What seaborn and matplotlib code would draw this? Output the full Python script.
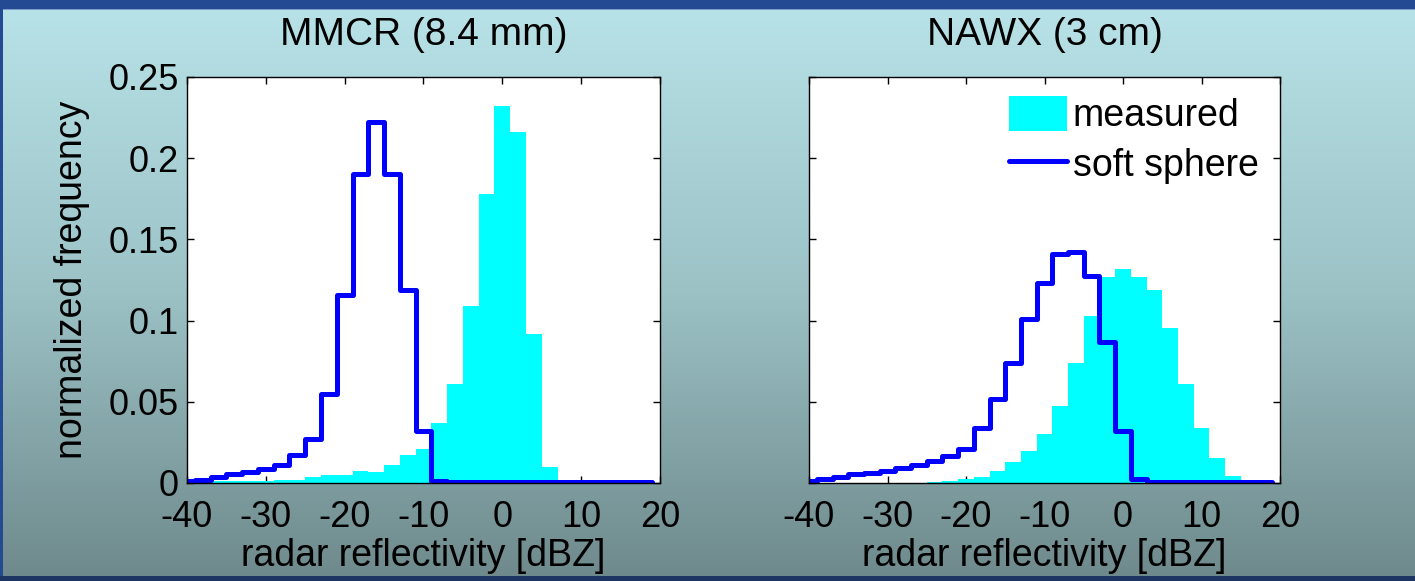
import numpy as np
import matplotlib
matplotlib.use("Agg")
import matplotlib.pyplot as plt
import seaborn as sns
from matplotlib.patches import Rectangle, Patch
from matplotlib.lines import Line2D
from matplotlib.colors import LinearSegmentedColormap

# ---------------- data ----------------
centers = list(range(-40, 20, 2))          # bin centres [dBZ]
bin_edges = list(range(-41, 20, 2))        # bin edges [dBZ]

mmcr_measured = [0.0005, 0.0008, 0.001, 0.001, 0.001, 0.0012, 0.002, 0.002,
                 0.004, 0.0049, 0.005, 0.0075, 0.0066, 0.011, 0.017, 0.021,
                 0.037, 0.061, 0.109, 0.178, 0.232, 0.216, 0.092, 0.010,
                 0.0005, 0.0, 0.0, 0.0, 0.0, 0.0]
mmcr_soft = [0.001, 0.002, 0.004, 0.0055, 0.0068, 0.0088, 0.011, 0.017,
             0.027, 0.055, 0.116, 0.190, 0.222, 0.190, 0.119, 0.032,
             0.0015, 0.0006, 0.0005, 0.0005, 0.0005, 0.0005, 0.0005, 0.0005,
             0.0005, 0.0005, 0.0005, 0.0005, 0.0005, 0.0005]
nawx_measured = [0.0003, 0.0003, 0.0003, 0.0003, 0.0003, 0.0003, 0.0003, 0.0003,
                 0.0006, 0.001, 0.0025, 0.004, 0.0075, 0.013, 0.020, 0.030,
                 0.0476, 0.074, 0.103, 0.127, 0.132, 0.127, 0.1186, 0.0955,
                 0.061, 0.034, 0.0153, 0.0043, 0.001, 0.0]
nawx_soft = [0.001, 0.0025, 0.004, 0.0053, 0.0063, 0.0075, 0.009, 0.011,
             0.0135, 0.0165, 0.021, 0.034, 0.052, 0.074, 0.101, 0.123,
             0.141, 0.1425, 0.1275, 0.087, 0.032, 0.0027, 0.0005, 0.0005,
             0.0005, 0.0005, 0.0005, 0.0005, 0.0005, 0.0005]

titles = ["MMCR (8.4 mm)", "NAWX (3 cm)"]
legend_labels = ["measured", "soft sphere"]
xlabel = "radar reflectivity [dBZ]"
ylabel = "normalized frequency"
xticks = [-40, -30, -20, -10, 0, 10, 20]
xticklabels = ["-40", "-30", "-20", "-10", "0", "10", "20"]
yticks = [0, 0.05, 0.1, 0.15, 0.2, 0.25]
yticklabels = ["0", "0.05", "0.1", "0.15", "0.2", "0.25"]

CYAN = "#00ffff"
BLUE = "#0000ff"

# ---------------- style ----------------
sns.set_theme(style="ticks")
plt.rcParams["font.family"] = ["Liberation Sans", "DejaVu Sans"]
plt.rcParams["axes.unicode_minus"] = False
plt.rcParams["text.color"] = "black"
plt.rcParams["axes.labelcolor"] = "black"
plt.rcParams["xtick.color"] = "black"
plt.rcParams["ytick.color"] = "black"

W, H = 1415, 581
fig = plt.figure(figsize=(W / 100, H / 100), dpi=100)

# gradient background
bg = fig.add_axes([0, 0, 1, 1], zorder=-10)
cmap = LinearSegmentedColormap.from_list(
    "bg", [(0.0, "#b8e3e8"), (0.5, "#9cc2c6"), (1.0, "#6e898b")])
grad = np.linspace(0, 1, 256).reshape(-1, 1)
bg.imshow(grad, aspect="auto", cmap=cmap, extent=[0, 1, 0, 1], origin="upper")
bg.set_axis_off()

# slide frame
fig.add_artist(Rectangle((0, 1 - 9 / H), 1, 9 / H, transform=fig.transFigure,
                         facecolor="#244a93", edgecolor="none", zorder=5))
fig.add_artist(Rectangle((0, 1 - 10 / H), 1, 1 / H, transform=fig.transFigure,
                         facecolor="#7b9ccb", edgecolor="none", zorder=5))
fig.add_artist(Rectangle((0, 0), 3 / W, 1, transform=fig.transFigure,
                         facecolor="#244a93", edgecolor="none", zorder=5))
fig.add_artist(Rectangle((0, 0), 1, 5 / H, transform=fig.transFigure,
                         facecolor="#1d3563", edgecolor="none", zorder=5))

ax_bottom = (H - 483) / H
ax_h = (483 - 77) / H
axes = [fig.add_axes([187 / W, ax_bottom, 473 / W, ax_h]),
        fig.add_axes([809 / W, ax_bottom, 471 / W, ax_h])]

datasets = [(mmcr_measured, mmcr_soft), (nawx_measured, nawx_soft)]

for i, (ax, (meas, soft)) in enumerate(zip(axes, datasets)):
    ax.set_facecolor("white")
    sns.histplot(x=centers, weights=meas, bins=bin_edges, element="bars",
                 color=CYAN, alpha=1, linewidth=0, edgecolor="none", ax=ax)
    sns.histplot(x=centers, weights=soft, bins=bin_edges, element="step",
                 fill=False, color=BLUE, linewidth=3.6, ax=ax, zorder=3)
    ax.set_xlim(-40, 20)
    ax.set_ylim(0, 0.25)
    ax.set_xticks(xticks)
    ax.set_xticklabels(xticklabels)
    ax.set_yticks(yticks)
    if i == 0:
        ax.set_yticklabels(yticklabels)
        ax.set_ylabel(ylabel, fontsize=27, color="black")
        ax.yaxis.set_label_coords(-0.205, 0.5)
    else:
        ax.set_yticklabels([])
        ax.set_ylabel("")
    ax.set_xlabel(xlabel, fontsize=27, color="black")
    ax.xaxis.set_label_coords(0.5, -0.135)
    ax.set_title(titles[i], fontsize=28, color="black", pad=23)
    ax.tick_params(direction="in", length=5, width=1, top=True, right=True,
                   labelsize=26, colors="black")
    ax.tick_params(axis="x", pad=12.5)
    ax.tick_params(axis="y", pad=6)
    for s in ax.spines.values():
        s.set_visible(True)
        s.set_color("black")
        s.set_linewidth(1.0)
        s.set_zorder(4)

handles = [Patch(facecolor=CYAN, edgecolor="none"),
           Line2D([0], [0], color=BLUE, linewidth=3.6)]
axes[1].legend(handles, legend_labels, loc="upper left",
               bbox_to_anchor=(0.425, 0.953), frameon=False, fontsize=27,
               handlelength=1.55, handleheight=1.05, handletextpad=0.15,
               labelspacing=0.3, borderpad=0, borderaxespad=0,
               labelcolor="black")

fig.savefig("out.png", dpi=100)
